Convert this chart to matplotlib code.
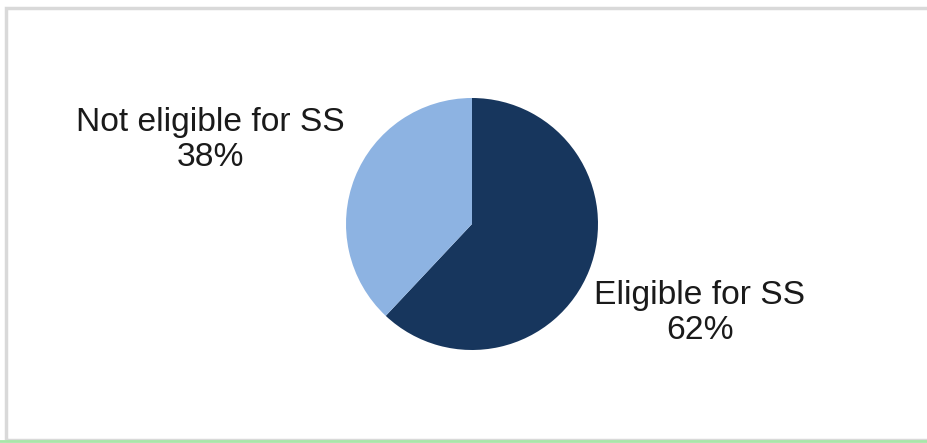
import matplotlib.pyplot as plt
from matplotlib.patches import Rectangle

# SS eligibility split
labels = ["Eligible for SS", "Not eligible for SS"]
shares = [62, 38]
colors = ["#17365d", "#8db3e2"]

W, H = 928, 443
fig = plt.figure(figsize=(W / 100, H / 100), dpi=100)
ax = fig.add_axes([0, 0, 1, 1])

# chart frame
ax.add_patch(Rectangle((6, 3), W + 10, H - 11, fill=False,
                       edgecolor="#d9d9d9", linewidth=2.5))
ax.plot([0, W], [2, 2], color="#a8e6a8", linewidth=2)

ax.pie(shares, colors=colors, startangle=90, counterclock=False,
       center=(472, H - 224), radius=126, frame=True,
       wedgeprops=dict(linewidth=0))
ax.set_xlim(0, W)
ax.set_ylim(0, H)
ax.set_aspect("equal")
ax.axis("off")

# outside labels
label_pos = {"Eligible for SS": (700, H - 313), "Not eligible for SS": (210, H - 140)}
for name, val in zip(labels, shares):
    x, y = label_pos[name]
    ax.text(x, y, f"{name}\n{val}%", ha="center", va="center",
            fontsize=24.2, family="Liberation Sans", color="#1a1a1a",
            linespacing=1.2)

fig.savefig("out.png", dpi=100)
